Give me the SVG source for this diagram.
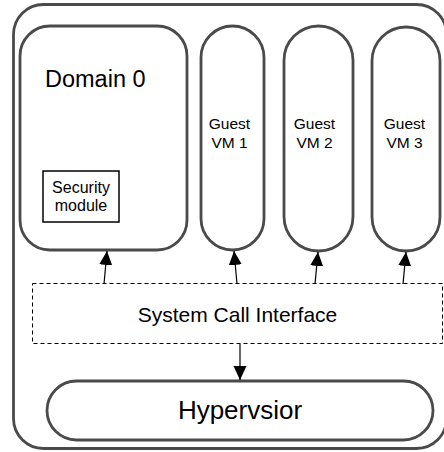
<svg xmlns="http://www.w3.org/2000/svg" width="444" height="452" viewBox="0 0 444 452">
<defs>
<style>
.box{fill:#fff;stroke:#4a4a4a;stroke-width:2.8}
.t{font-family:"Liberation Sans",Arial,sans-serif;fill:#000;text-anchor:middle}
.c{stroke:#000;stroke-width:1.2;fill:none}
</style>
<marker id="ah" markerUnits="userSpaceOnUse" markerWidth="16" markerHeight="16" viewBox="0 0 16 16" refX="14" refY="8" orient="auto">
<path d="M0,1.5 L14,8 L0,14.5 Z" fill="#000"/>
</marker>
</defs>
<rect x="0" y="0" width="444" height="452" fill="#fff"/>
<g id="outer"><rect class="box" x="13.5" y="4.5" width="433" height="444" rx="30"/></g>
<g id="domain0">
<rect class="box" x="20" y="26" width="167" height="224" rx="30"/>
<text class="t" x="45" y="87" font-size="23.5" style="text-anchor:start">Domain 0</text>
</g>
<g id="security">
<rect x="43" y="171" width="76" height="51" fill="#fff" stroke="#000" stroke-width="1.5"/>
<text class="t" x="81" y="193" font-size="16">Security</text>
<text class="t" x="81" y="211" font-size="16">module</text>
</g>
<g id="vm1">
<rect class="box" x="201" y="26" width="63" height="224" rx="31.5"/>
<text class="t" x="229.5" y="129" font-size="15.5">Guest</text>
<text class="t" x="229.5" y="148" font-size="15.5">VM 1</text>
</g>
<g id="vm2">
<rect class="box" x="284" y="26" width="69" height="225" rx="34.5"/>
<text class="t" x="314.5" y="129" font-size="15.5">Guest</text>
<text class="t" x="314.5" y="148" font-size="15.5">VM 2</text>
</g>
<g id="vm3">
<rect class="box" x="372" y="27" width="68" height="224" rx="34"/>
<text class="t" x="404.5" y="129" font-size="15.5">Guest</text>
<text class="t" x="404.5" y="148" font-size="15.5">VM 3</text>
</g>
<g id="syscall">
<rect x="32.5" y="283.5" width="410" height="60" fill="none" stroke="#000" stroke-width="1" stroke-dasharray="4,3"/>
<text class="t" x="237.5" y="322" font-size="21">System Call Interface</text>
</g>
<g id="hypervisor">
<rect class="box" x="47" y="381" width="386" height="59" rx="29.5"/>
<text class="t" x="240" y="419" font-size="26">Hypervsior</text>
</g>
<g id="connectors">
<line class="c" x1="104" y1="284" x2="107" y2="251" marker-end="url(#ah)"/>
<line class="c" x1="237" y1="284" x2="234" y2="251" marker-end="url(#ah)"/>
<line class="c" x1="315" y1="284" x2="318" y2="252" marker-end="url(#ah)"/>
<line class="c" x1="403" y1="284" x2="406" y2="252" marker-end="url(#ah)"/>
<line class="c" x1="240" y1="344" x2="240" y2="380" marker-end="url(#ah)"/>
</g>
</svg>
